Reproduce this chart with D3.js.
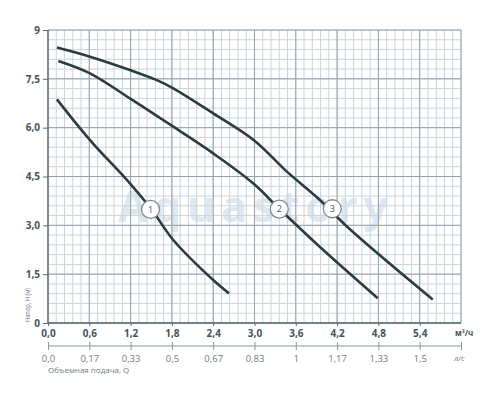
<!DOCTYPE html>
<html>
<head>
<meta charset="utf-8">
<script src="https://cdn.jsdelivr.net/npm/d3@7"></script>
<style>
  body { margin: 0; background: #fff; }
  svg { display: block; font-family: "Open Sans", "Noto Sans", sans-serif; }
</style>
</head>
<body>
<div id="viz"></div>
<script>
// flow in m3/h, head in m
const flowTicks = [0, 0.6, 1.2, 1.8, 2.4, 3.0, 3.6, 4.2, 4.8, 5.4];
const flowLabels = ["0,0", "0,6", "1,2", "1,8", "2,4", "3,0", "3,6", "4,2", "4,8", "5,4"];
const lpsLabels = ["0,0", "0,17", "0,33", "0,5", "0,67", "0,83", "1", "1,17", "1,33", "1,5"];
const headTicks = [0, 1.5, 3, 4.5, 6, 7.5, 9];
const headLabels = ["0", "1,5", "3,0", "4,5", "6,0", "7,5", "9"];

const curve1 = [[0.13, 6.87], [0.61, 5.62], [1.19, 4.29], [1.51, 3.47], [1.82, 2.55], [2.4, 1.32], [2.63, 0.91]];
const curve2 = [[0.15, 8.05], [0.61, 7.67], [1.19, 6.9], [1.82, 6.03], [2.4, 5.21], [2.98, 4.29], [3.36, 3.51], [4.0, 2.24], [4.79, 0.76]];
const curve3 = [[0.13, 8.46], [0.61, 8.18], [1.19, 7.77], [1.58, 7.46], [1.82, 7.21], [2.4, 6.44], [3.0, 5.6], [3.47, 4.65], [3.95, 3.78], [4.37, 2.91], [5.59, 0.72]];
const curveLabels = [[1.49, 3.49, "1"], [3.36, 3.5, "2"], [4.13, 3.51, "3"]];

const width = 500, height = 400;
const margin = { top: 30, right: 39, bottom: 77, left: 48 };

const svg = d3.select("#viz").append("svg")
  .attr("width", width)
  .attr("height", height);

const x = d3.scaleLinear().domain([0, 6]).range([margin.left, width - margin.right]);
const y = d3.scaleLinear().domain([0, 9]).range([height - margin.bottom, margin.top]);

// watermark (under the grid)
svg.append("text")
  .attr("x", 118)
  .attr("y", 222)
  .attr("font-size", 43)
  .attr("font-weight", "bold")
  .attr("fill", "#dee8f0")
  .attr("textLength", 270)
  .text("Aquastory");

// grid
const minorX = d3.range(0, 6.0001, 0.12);
const minorY = d3.range(0, 9.0001, 0.3);
const grid = svg.append("g");

grid.selectAll(".vx").data(minorX).join("line")
  .attr("x1", d => x(d)).attr("x2", d => x(d))
  .attr("y1", y(0)).attr("y2", y(9))
  .attr("stroke", "#cbd4d9").attr("stroke-width", 1);

grid.selectAll(".hy").data(minorY).join("line")
  .attr("y1", d => y(d)).attr("y2", d => y(d))
  .attr("x1", x(0)).attr("x2", x(6))
  .attr("stroke", "#cbd4d9").attr("stroke-width", 1);

grid.selectAll(".mx").data(flowTicks.concat([6])).join("line")
  .attr("x1", d => x(d)).attr("x2", d => x(d))
  .attr("y1", y(0)).attr("y2", y(9))
  .attr("stroke", "#93a2aa").attr("stroke-width", 1);

grid.selectAll(".my").data(headTicks).join("line")
  .attr("y1", d => y(d)).attr("y2", d => y(d))
  .attr("x1", x(0)).attr("x2", x(6))
  .attr("stroke", "#93a2aa").attr("stroke-width", 1);

// axes lines
svg.append("line")
  .attr("x1", x(0)).attr("x2", x(0)).attr("y1", y(0)).attr("y2", y(9))
  .attr("stroke", "#5b6a72").attr("stroke-width", 1.3);
svg.append("line")
  .attr("x1", x(0)).attr("x2", x(6)).attr("y1", y(0)).attr("y2", y(0))
  .attr("stroke", "#5b6a72").attr("stroke-width", 1.3);

const yAxis = svg.append("g")
  .attr("transform", `translate(${x(0)},0)`)
  .call(d3.axisLeft(y).tickValues(headTicks).tickSize(5).tickPadding(3)
    .tickFormat((d, i) => headLabels[i]));
yAxis.select(".domain").remove();
yAxis.selectAll("line").attr("stroke", "#5b6a72");
yAxis.selectAll("text").attr("font-size", 10).attr("font-weight", "bold").attr("fill", "#44535b")
  .attr("font-family", "'Open Sans', sans-serif");

const xAxis = svg.append("g")
  .attr("transform", `translate(0,${y(0)})`)
  .call(d3.axisBottom(x).tickValues(flowTicks).tickSize(3).tickPadding(4)
    .tickFormat((d, i) => flowLabels[i]));
xAxis.select(".domain").remove();
xAxis.selectAll("line").attr("stroke", "#5b6a72");
xAxis.selectAll("text").attr("font-size", 10).attr("font-weight", "bold").attr("fill", "#44535b")
  .attr("font-family", "'Open Sans', sans-serif");

// second axis in l/s
const lpsAxis = svg.append("g")
  .attr("transform", "translate(0,346)")
  .call(d3.axisBottom(x).tickValues(flowTicks.concat([6])).tickSize(4).tickPadding(5)
    .tickFormat((d, i) => lpsLabels[i] || ""));
lpsAxis.select(".domain").attr("stroke", "#8a979e").attr("stroke-width", 1.2)
  .attr("d", `M${x(0)},0H${x(6)}`);
lpsAxis.selectAll("line").attr("stroke", "#8a979e").attr("transform", "translate(0,-4)").attr("y2", 8);
lpsAxis.selectAll("text").attr("font-size", 9.5).attr("fill", "#6f7c83")
  .attr("font-family", "'Open Sans', sans-serif");

// units and titles
svg.append("text")
  .attr("x", 455).attr("y", 336)
  .attr("font-size", 8).attr("font-weight", "bold").attr("fill", "#44535b")
  .text("м³/ч");
svg.append("text")
  .attr("x", 454).attr("y", 361)
  .attr("font-size", 8).attr("font-style", "italic").attr("fill", "#6f7c83")
  .text("л/с");
svg.append("text")
  .attr("x", 48).attr("y", 373)
  .attr("font-size", 8).attr("fill", "#6f7c83")
  .text("Объемная подача, Q");
svg.append("text")
  .attr("transform", "translate(30,322) rotate(-90)")
  .attr("font-size", 7.5).attr("fill", "#6f7c83")
  .attr("textLength", 34).attr("lengthAdjust", "spacingAndGlyphs")
  .text("Напор, H (м)");

// curves
const line = d3.line()
  .x(d => x(d[0]))
  .y(d => y(d[1]))
  .curve(d3.curveCatmullRom.alpha(0.5));

svg.selectAll(".curve").data([curve1, curve2, curve3]).join("path")
  .attr("class", "curve")
  .attr("d", line)
  .attr("fill", "none")
  .attr("stroke", "#2b3b43")
  .attr("stroke-width", 2.6);

// curve labels
const lab = svg.selectAll(".lab").data(curveLabels).join("g")
  .attr("transform", d => `translate(${x(d[0])},${y(d[1])})`);
lab.append("circle")
  .attr("r", 9)
  .attr("fill", "#fff")
  .attr("stroke", "#7d8a91")
  .attr("stroke-width", 1.3);
lab.append("text")
  .attr("text-anchor", "middle")
  .attr("dy", "0.35em")
  .attr("font-size", 9)
  .attr("fill", "#4a585f")
  .text(d => d[2]);
</script>
</body>
</html>
